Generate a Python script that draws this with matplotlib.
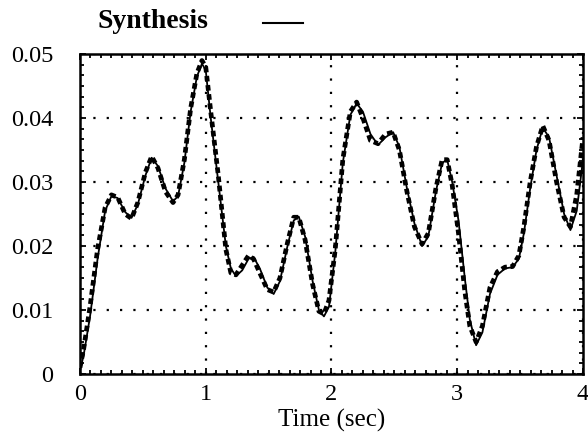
import matplotlib
matplotlib.use("Agg")
import matplotlib.pyplot as plt
from matplotlib.lines import Line2D
from matplotlib.ticker import MultipleLocator

# time axis (sec)
t_synth = [0.0, 0.03, 0.08, 0.14, 0.2, 0.25, 0.3, 0.36, 0.41, 0.46, 0.52, 0.57,
           0.62, 0.68, 0.74, 0.78, 0.83, 0.88, 0.93, 0.97, 1.0, 1.04, 1.1, 1.16,
           1.2, 1.24, 1.29, 1.34, 1.38, 1.43, 1.49, 1.54, 1.59, 1.65, 1.7, 1.74,
           1.79, 1.85, 1.9, 1.94, 1.98, 2.03, 2.09, 2.15, 2.2, 2.25, 2.31, 2.37,
           2.43, 2.49, 2.54, 2.6, 2.66, 2.72, 2.77, 2.83, 2.88, 2.92, 2.96, 3.01,
           3.06, 3.1, 3.15, 3.2, 3.26, 3.32, 3.38, 3.44, 3.49, 3.53, 3.58, 3.63,
           3.68, 3.73, 3.79, 3.85, 3.9, 3.95, 4.0]

# solid line (synthesis)
y_synth = [0.0005, 0.003, 0.009, 0.018, 0.0255, 0.0278, 0.0275, 0.0253, 0.0244,
           0.0265, 0.031, 0.0338, 0.0325, 0.029, 0.027, 0.0278, 0.033, 0.041,
           0.0465, 0.0485, 0.0475, 0.040, 0.030, 0.020, 0.0165, 0.0153, 0.0162,
           0.018, 0.0183, 0.0165, 0.0135, 0.0125, 0.0145, 0.020, 0.024, 0.0246,
           0.0215, 0.0145, 0.010, 0.009, 0.0105, 0.019, 0.033, 0.0405, 0.0423,
           0.041, 0.0375, 0.0358, 0.037, 0.0378, 0.0355, 0.029, 0.0235, 0.020,
           0.0215, 0.0285, 0.033, 0.0335, 0.030, 0.024, 0.015, 0.0085, 0.0045,
           0.0065, 0.0125, 0.0155, 0.0165, 0.0167, 0.018, 0.022, 0.029, 0.035,
           0.0385, 0.037, 0.031, 0.025, 0.0225, 0.0255, 0.0335]

# dashed line (reference)
y_ref = [0.001, 0.004, 0.0105, 0.0195, 0.026, 0.028, 0.0276, 0.025, 0.0243,
         0.0268, 0.0315, 0.034, 0.0322, 0.0285, 0.0268, 0.028, 0.0335, 0.0415,
         0.047, 0.049, 0.048, 0.041, 0.031, 0.0195, 0.0158, 0.0155, 0.017,
         0.0185, 0.018, 0.0158, 0.0132, 0.0128, 0.015, 0.0205, 0.0245, 0.0245,
         0.021, 0.014, 0.0098, 0.0094, 0.0115, 0.0195, 0.0335, 0.041, 0.0425,
         0.040, 0.0365, 0.036, 0.0375, 0.0378, 0.035, 0.0285, 0.023, 0.0203,
         0.022, 0.029, 0.0335, 0.0335, 0.0295, 0.022, 0.013, 0.0075, 0.005,
         0.0075, 0.0135, 0.016, 0.0167, 0.0168, 0.0185, 0.023, 0.030, 0.0355,
         0.0388, 0.0365, 0.030, 0.0245, 0.023, 0.028, 0.037]

x_ticks = [0, 1, 2, 3, 4]
x_labels = ['0', '1', '2', '3', '4']
y_ticks = [0, 0.01, 0.02, 0.03, 0.04, 0.05]
y_labels = ['0', '0.01', '0.02', '0.03', '0.04', '0.05']

plt.rcParams['font.family'] = ['Liberation Serif', 'DejaVu Serif']

fig = plt.figure(figsize=(5.88, 4.4), dpi=100)
ax = fig.add_axes([0.136, 0.15, 0.8555, 0.727])

ax.plot(t_synth, y_synth, color='black', lw=1.3)
ax.plot(t_synth, y_ref, color='black', lw=3.4, linestyle=(0, (1.2, 0.75)))

ax.set_xlim(0, 4)
ax.set_ylim(0, 0.05)
ax.set_xticks(x_ticks)
ax.set_xticklabels(x_labels)
ax.set_yticks(y_ticks)
ax.set_yticklabels(y_labels)
ax.xaxis.set_minor_locator(MultipleLocator(1 / 12))
ax.yaxis.set_minor_locator(MultipleLocator(0.01 / 6))

ax.tick_params(which='both', direction='in', top=True, right=True,
               labelsize=17.5, width=1.3, colors='black')
ax.tick_params(which='major', length=4)
ax.tick_params(which='minor', length=3)
ax.tick_params(axis='y', pad=19)
ax.tick_params(axis='x', pad=7)
ax.grid(True, which='major', color='black', linestyle=(0, (1, 5)), lw=1.6)

for s in ax.spines.values():
    s.set_linewidth(1.8)

ax.set_xlabel('Time (sec)', fontsize=18, labelpad=3)

fig.text(153 / 588, 1 - 22 / 440, 'Synthesis', fontsize=20, fontweight='bold',
         ha='center', va='center')
fig.add_artist(Line2D([263 / 588, 303 / 588], [1 - 23 / 440, 1 - 23 / 440],
                      color='black', lw=1.5))

fig.savefig('out.png', dpi=100)
